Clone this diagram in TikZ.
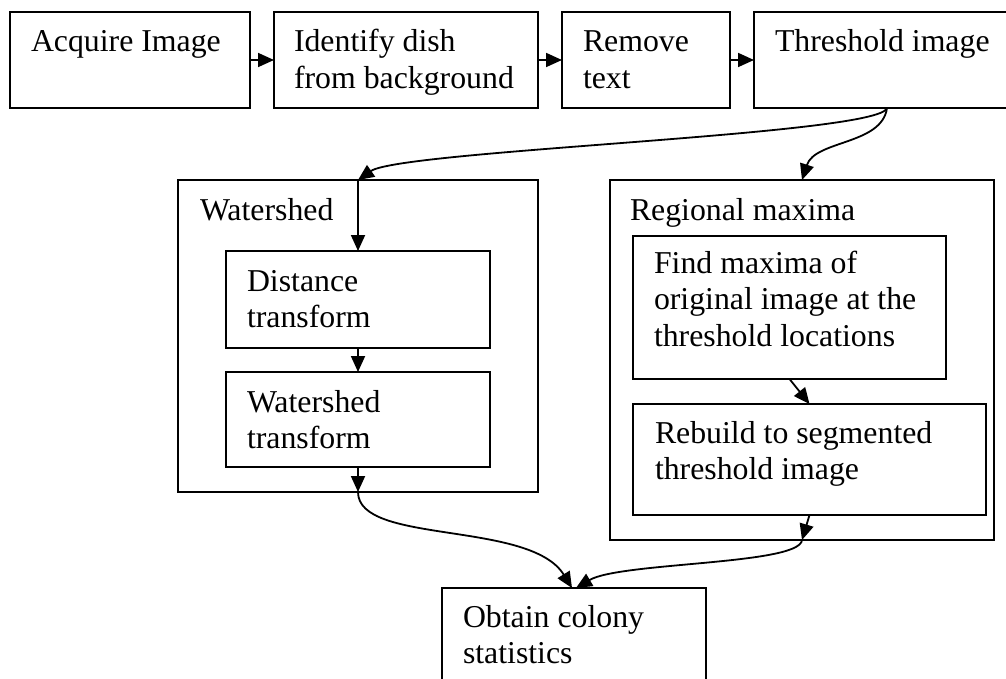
\documentclass[tikz,border=0pt]{standalone}
\usepackage{fontspec}
\setmainfont{Liberation Serif}
\usetikzlibrary{arrows.meta,calc}
\newcommand\mytxt[4]{\node[txt] (#1) at (#2,#3-26) {\rule{0pt}{26pt}#4};}
\begin{document}
\begin{tikzpicture}[x=1pt,y=-1pt,
  box/.style={draw, line width=2pt, rectangle, inner sep=0pt, outer sep=0pt, anchor=north west},
  arr/.style={line width=1.8pt, -{Triangle[length=16pt,width=14pt]}},
  txt/.style={inner sep=0pt, outer sep=0pt, anchor=north west, align=left,
              font=\fontsize{31.8}{36.5}\selectfont}]
\clip (0,0) rectangle (1006,679);
% boxes
\node[box, minimum width=240pt, minimum height=96pt]  (acq)   at (10,12)  {};
\node[box, minimum width=264pt, minimum height=96pt]  (ident) at (274,12) {};
\node[box, minimum width=168pt, minimum height=96pt]  (rem)   at (562,12) {};
\node[box, minimum width=270pt, minimum height=96pt]  (thr)   at (754,12) {};
\node[box, minimum width=360pt, minimum height=312pt] (ws)    at (178,180) {};
\node[box, minimum width=264pt, minimum height=97pt]  (dist)  at (226,251) {};
\node[box, minimum width=264pt, minimum height=95pt]  (wt)    at (226,372) {};
\node[box, minimum width=384pt, minimum height=360pt] (reg)   at (610,180) {};
\node[box, minimum width=313pt, minimum height=143pt] (find)  at (633,236) {};
\node[box, minimum width=353pt, minimum height=111pt] (reb)   at (633,404) {};
\node[box, minimum width=264pt, minimum height=120pt] (obt)   at (442,588) {};
% texts
\mytxt{acq-t}{31}{52}{Acquire Image}
\mytxt{ident-t}{294}{52}{Identify dish\\from background}
\mytxt{rem-t}{583}{52}{Remove\\text}
\mytxt{thr-t}{775}{52}{Threshold image}
\mytxt{ws-t}{200}{220}{Watershed}
\mytxt{dist-t}{247}{291}{Distance\\transform}
\mytxt{wt-t}{247}{412}{Watershed\\transform}
\mytxt{reg-t}{630}{220}{Regional maxima}
\mytxt{find-t}{654}{273}{Find maxima of\\original image at the\\threshold locations}
\mytxt{reb-t}{655}{443}{Rebuild to segmented\\threshold image}
\mytxt{obt-t}{463}{627}{Obtain colony\\statistics}
% connectors
\coordinate (thrb) at ($(thr.south west)+(133,0)$);
\draw[arr] (acq) -- (ident);
\draw[arr] (ident) -- (rem);
\draw[arr] (rem) -- (rem -| thr.west);
\draw[arr] (thrb) .. controls (880,135) and (401,150) .. (ws.north);
\draw[arr] (thrb) .. controls (882,145) and (815,140) .. (reg.north);
\draw[arr] (ws.north) -- (dist.north);
\draw[arr] (dist.south) -- (wt.north);
\draw[arr] (wt.south) -- (ws.south);
\draw[arr] (ws.south) .. controls (358,545) and (530,520) .. ([xshift=-2pt]obt.north);
\draw[arr] (find.south) -- (reb.north);
\draw[arr] (reb.south) -- (reg.south);
\draw[arr] (reg.south) .. controls (800,565) and (620,562) .. ([xshift=2pt]obt.north);
\end{tikzpicture}
\end{document}
